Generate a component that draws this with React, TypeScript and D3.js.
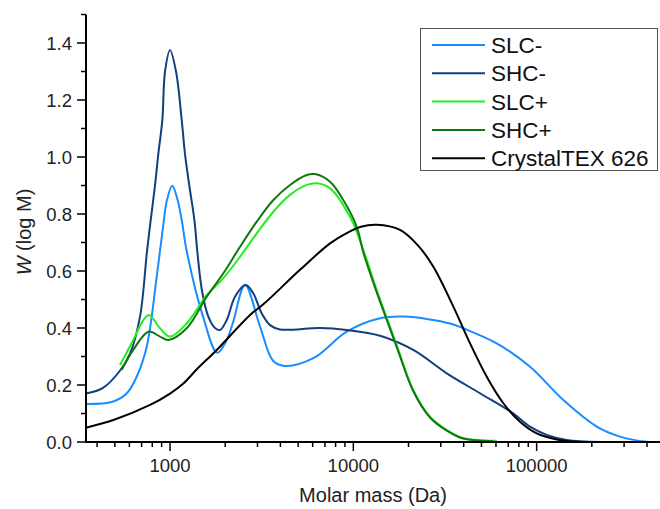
import React from "react";
import * as d3 from "d3";

const W = 660;
const H = 509;
const margin = { left: 86, right: 0, top: 14.5, bottom: 67 };

const seriesNames = ["SLC-", "SHC-", "SLC+", "SHC+", "CrystalTEX 626"];
const seriesColors = ["#1a8cff", "#123f7e", "#22ee22", "#117711", "#000000"];

// [molar mass (Da), W(log M)]
const slcMinus: [number, number][] = [
  [348, 0.133], [485, 0.141], [581, 0.171], [658, 0.229], [746, 0.334], [846, 0.58],
  [916, 0.755], [963, 0.85], [1029, 0.899], [1099, 0.85], [1158, 0.779], [1233, 0.67],
  [1514, 0.44], [1810, 0.313], [2038, 0.358], [2207, 0.42], [2565, 0.551], [3097, 0.405],
  [3648, 0.285], [4200, 0.267], [6053, 0.294], [9204, 0.387], [13990, 0.434], [19000, 0.44],
  [33700, 0.416], [39810, 0.399], [60560, 0.346], [92040, 0.264], [139900, 0.147],
  [212800, 0.054], [285100, 0.019], [398300, 0.001], [471000, 0],
];

const shcMinus: [number, number][] = [
  [348, 0.17], [431, 0.19], [533, 0.25], [605, 0.31], [686, 0.44], [749, 0.67], [785, 0.78],
  [828, 0.9], [863, 1.01], [908, 1.13], [939, 1.3], [1000, 1.375], [1078, 1.3], [1158, 1.13],
  [1207, 1.01], [1274, 0.9], [1357, 0.78], [1413, 0.66], [1495, 0.53], [1618, 0.44],
  [1760, 0.4], [1874, 0.393], [2038, 0.428], [2261, 0.51], [2585, 0.551], [2844, 0.522],
  [3160, 0.452], [3511, 0.41], [3981, 0.395], [6579, 0.4], [9204, 0.393], [13990, 0.373],
  [21240, 0.323], [32330, 0.241], [49100, 0.171], [74640, 0.1], [92040, 0.054],
  [113500, 0.025], [145900, 0.007], [221800, 0],
];

const slcPlus: [number, number][] = [
  [533, 0.27], [630, 0.358], [715, 0.428], [768, 0.446], [882, 0.399], [1000, 0.37],
  [1233, 0.416], [1586, 0.515], [1954, 0.575], [2410, 0.65], [2972, 0.732], [3662, 0.808],
  [4515, 0.867], [5569, 0.902], [6314, 0.908], [7464, 0.89], [9594, 0.79], [11341, 0.674],
  [13420, 0.533], [15850, 0.405], [17590, 0.323], [21240, 0.182], [26190, 0.089],
  [32330, 0.042], [39810, 0.013], [60560, 0.004],
];

const shcPlus: [number, number][] = [
  [545, 0.253], [630, 0.323], [762, 0.387], [882, 0.37], [979, 0.358], [1233, 0.399],
  [1586, 0.51], [1954, 0.592], [2410, 0.685], [2972, 0.773], [3662, 0.849], [4515, 0.902],
  [5569, 0.937], [6180, 0.94], [7464, 0.913], [8815, 0.849], [10437, 0.755],
  [11341, 0.665], [13420, 0.525], [15850, 0.398], [17590, 0.318], [21240, 0.178],
  [26190, 0.086], [32330, 0.04], [39810, 0.012], [58000, 0.003],
];

const crystalTex: [number, number][] = [
  [348, 0.05], [491, 0.077], [778, 0.13], [1000, 0.17], [1182, 0.205], [1400, 0.255],
  [1798, 0.323], [2733, 0.446], [3228, 0.483], [5117, 0.604], [7464, 0.697], [9204, 0.733],
  [11000, 0.755], [13420, 0.762], [17980, 0.744], [22500, 0.69], [27330, 0.615],
  [35130, 0.475], [43320, 0.346], [53440, 0.229], [65820, 0.136], [81150, 0.071],
  [100100, 0.03], [128800, 0.009], [172600, 0],
];

const allSeries = [slcMinus, shcMinus, slcPlus, shcPlus, crystalTex];

const xMajor = [1000, 10000, 100000];
const yMajor = [0, 0.2, 0.4, 0.6, 0.8, 1.0, 1.2, 1.4];

const font = "'Liberation Sans', Arial, sans-serif";

export default function App() {
  const x = d3.scaleLog().domain([348, 471000]).range([margin.left, W - margin.right]);
  const y = d3.scaleLinear().domain([0, 1.5]).range([H - margin.bottom, margin.top]);
  const y0 = y(0);

  const line = d3
    .line<[number, number]>()
    .x((d) => x(d[0]))
    .y((d) => Math.min(y0, y(d[1])))
    .curve(d3.curveCatmullRom.alpha(0.5));

  // minor ticks on log axis: 2..9 of each decade
  const xMinor: number[] = [];
  for (let dec = 100; dec <= 100000; dec *= 10) {
    for (let k = 2; k <= 9; k++) {
      const v = dec * k;
      if (v >= 348 && v <= 471000) xMinor.push(v);
    }
  }
  const yMinor = d3.range(0.1, 1.6, 0.2);

  const fmt = d3.format(".1f");

  return (
    <svg
      width={W}
      height={H}
      style={{ position: "absolute", left: 0, top: 0, background: "#fff" }}
      fontFamily={font}
    >
      {allSeries.map((s, i) => (
        <path key={i} d={line(s) || ""} fill="none" stroke={seriesColors[i]} strokeWidth={2} />
      ))}

      {/* axes */}
      <line x1={margin.left} x2={margin.left} y1={margin.top} y2={y0} stroke="#000" strokeWidth={2} />
      <line x1={margin.left - 1} x2={W} y1={y0} y2={y0} stroke="#000" strokeWidth={2} />

      {yMajor.map((v) => (
        <g key={"ym" + v}>
          <line x1={margin.left - 9} x2={margin.left} y1={y(v)} y2={y(v)} stroke="#000" strokeWidth={1.5} />
          <text x={margin.left - 14} y={y(v)} dy="0.36em" textAnchor="end" fontSize={18.5} fill="#222">
            {fmt(v)}
          </text>
        </g>
      ))}
      {yMinor.map((v) => (
        <line key={"yn" + v} x1={margin.left - 5} x2={margin.left} y1={y(v)} y2={y(v)} stroke="#000" strokeWidth={1.5} />
      ))}

      {xMajor.map((v) => (
        <g key={"xm" + v}>
          <line x1={x(v)} x2={x(v)} y1={y0} y2={y0 + 9} stroke="#000" strokeWidth={1.5} />
          <text x={x(v)} y={y0 + 30} textAnchor="middle" fontSize={18.5} fill="#222">
            {v}
          </text>
        </g>
      ))}
      {xMinor.map((v) => (
        <line key={"xn" + v} x1={x(v)} x2={x(v)} y1={y0} y2={y0 + 5} stroke="#000" strokeWidth={1.5} />
      ))}

      <text x={373} y={502} textAnchor="middle" fontSize={20} fill="#222">
        Molar mass (Da)
      </text>
      <text transform={`translate(31,232) rotate(-90)`} textAnchor="middle" fontSize={20} fill="#222">
        <tspan fontStyle="italic">W</tspan>
        <tspan>{"  (log M)"}</tspan>
      </text>

      {/* legend */}
      <rect x={420.5} y={28.5} width={237} height={142} fill="#fff" stroke="#555" strokeWidth={1} />
      {seriesNames.map((name, i) => {
        const ly = 45 + i * 28.3;
        return (
          <g key={name}>
            <line x1={432} x2={485} y1={ly} y2={ly} stroke={seriesColors[i]} strokeWidth={2} />
            <text x={491} y={ly} dy="0.36em" fontSize={22.5} fill="#111">
              {name}
            </text>
          </g>
        );
      })}
    </svg>
  );
}
